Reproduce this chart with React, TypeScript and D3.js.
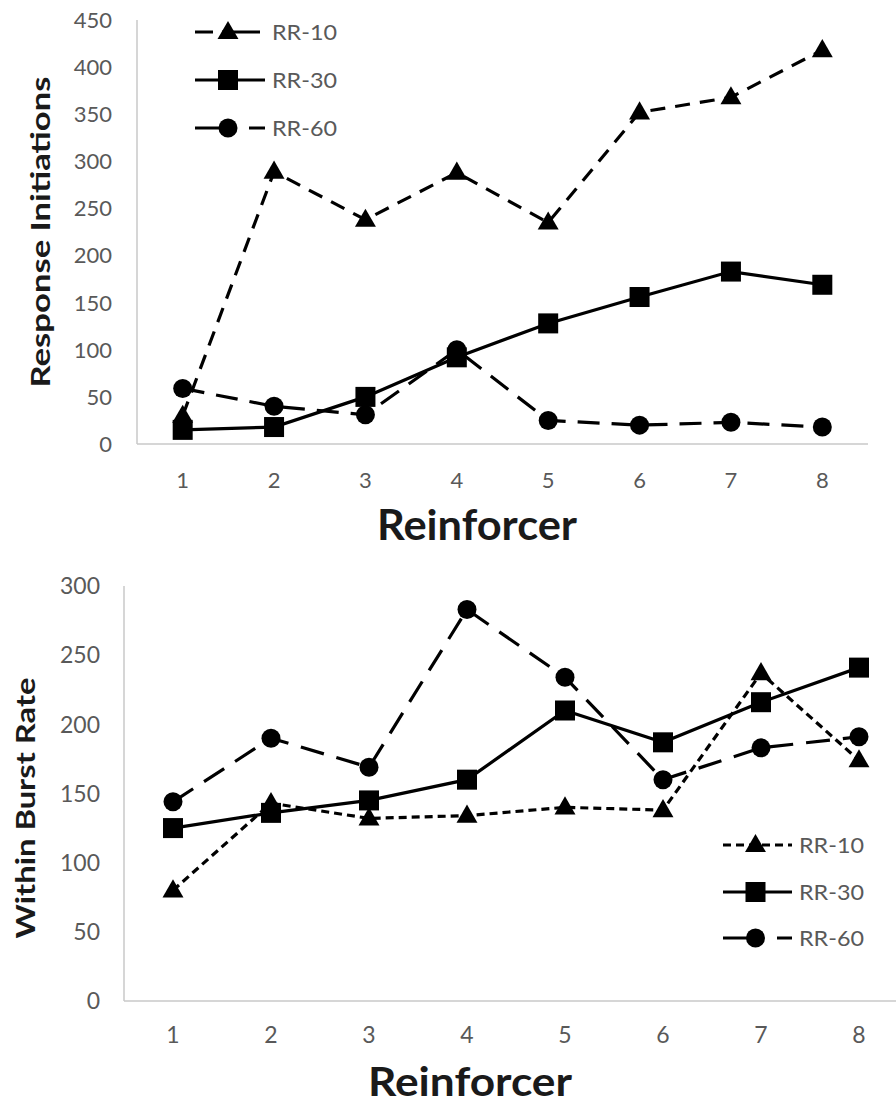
import React from "react";
import * as d3 from "d3";

const categories = [1, 2, 3, 4, 5, 6, 7, 8];
const seriesNames = ["RR-10", "RR-30", "RR-60"];

const topRR10 = [30, 289, 238, 288, 235, 352, 368, 418];
const topRR30 = [15, 18, 50, 92, 128, 156, 183, 169];
const topRR60 = [59, 40, 31, 100, 25, 20, 23, 18];
const topTicks = [0, 50, 100, 150, 200, 250, 300, 350, 400, 450];

const botRR10 = [80, 143, 132, 134, 140, 138, 237, 174];
const botRR30 = [125, 136, 145, 160, 210, 187, 216, 241];
const botRR60 = [144, 190, 169, 283, 234, 160, 183, 191];
const botTicks = [0, 50, 100, 150, 200, 250, 300];

const FONT = "Lato, 'Open Sans', sans-serif";

type Panel = {
  x0: number; x1: number; y0: number; y1: number; yMax: number;
  ticks: number[]; series: number[][]; dashes: string[];
  tickSize: number;
  yTitle: string; yTitleX: number; yTitleY: number; yTitleSize: number; yTitleLen: number;
  xTitleY: number; xTitleX: number; xTitleSize: number; xTitleLen: number;
  tickLabelY: number; tickLabelX: number;
  legendX0: number; legendX1: number; legendTextX: number; legendY: number[];
  legendDashes: string[];
};

function Marker({ kind, x, y }: { kind: number; x: number; y: number }) {
  if (kind === 0) {
    const s = d3.symbol(d3.symbolTriangle, 190)();
    return <path d={s || ""} transform={`translate(${x},${y + 1})`} fill="#000" />;
  }
  if (kind === 1) {
    return <rect x={x - 10} y={y - 10} width={20} height={20} fill="#000" />;
  }
  return <circle cx={x} cy={y} r={9.5} fill="#000" />;
}

function Chart({ p }: { p: Panel }) {
  const xs = d3.scaleBand<number>().domain(categories).range([p.x0, p.x1]);
  const y = d3.scaleLinear().domain([0, p.yMax]).range([p.y0, p.y1]);
  const cx = (c: number) => (xs(c) as number) + xs.bandwidth() / 2;
  const line = d3.line<number>().x((_, i) => cx(categories[i])).y((d) => y(d));
  return (
    <g>
      <line x1={p.x0} x2={p.x0} y1={p.y0} y2={p.y1} stroke="#c8c8c8" strokeWidth={1.5} />
      <line x1={p.x0} x2={p.x1} y1={p.y0} y2={p.y0} stroke="#c8c8c8" strokeWidth={1.5} />
      {p.ticks.map((t) => (
        <text key={t} x={p.tickLabelX} y={y(t)} dy="0.36em" textAnchor="end" fontSize={p.tickSize} fill="#595959" fontFamily={FONT}>{t}</text>
      ))}
      {categories.map((c) => (
        <text key={c} x={cx(c)} y={p.tickLabelY} textAnchor="middle" fontSize={p.tickSize} fill="#595959" fontFamily={FONT}>{c}</text>
      ))}
      <text transform={`translate(${p.yTitleX},${p.yTitleY}) rotate(-90)`} textAnchor="middle" fontSize={p.yTitleSize} fontWeight="bold" fill="#1a1a1a" fontFamily={FONT} textLength={p.yTitleLen} lengthAdjust="spacingAndGlyphs">{p.yTitle}</text>
      <text x={p.xTitleX} y={p.xTitleY} textAnchor="middle" fontSize={p.xTitleSize} fontWeight="bold" fill="#1a1a1a" fontFamily={FONT} textLength={p.xTitleLen} lengthAdjust="spacingAndGlyphs">Reinforcer</text>
      {p.series.map((s, k) => (
        <path key={k} d={line(s) || ""} fill="none" stroke="#000" strokeWidth={3.2} strokeDasharray={p.dashes[k]} />
      ))}
      {p.series.map((s, k) => s.map((v, i) => <Marker key={`${k}-${i}`} kind={k} x={cx(categories[i])} y={y(v)} />))}
      {seriesNames.map((n, k) => (
        <g key={n}>
          <line x1={p.legendX0} x2={p.legendX1} y1={p.legendY[k]} y2={p.legendY[k]} stroke="#000" strokeWidth={3.2} strokeDasharray={p.legendDashes[k]} />
          <Marker kind={k} x={(p.legendX0 + p.legendX1) / 2 - 2} y={p.legendY[k]} />
          <text x={p.legendTextX} y={p.legendY[k]} dy="0.36em" fontSize={21} fill="#595959" fontFamily={FONT} textLength={65} lengthAdjust="spacingAndGlyphs">{n}</text>
        </g>
      ))}
    </g>
  );
}

export default function App() {
  const top: Panel = {
    x0: 137, x1: 868, y0: 444, y1: 20, yMax: 450, ticks: topTicks, tickSize: 22,
    series: [topRR10, topRR30, topRR60],
    dashes: ["15 10", "none", "22 12"],
    yTitle: "Response Initiations", yTitleX: 50, yTitleY: 232, yTitleSize: 26, yTitleLen: 311,
    xTitleX: 477, xTitleY: 540, xTitleSize: 42, xTitleLen: 200,
    tickLabelY: 488, tickLabelX: 112,
    legendX0: 195, legendX1: 265, legendTextX: 272, legendY: [32, 80, 128],
    legendDashes: ["18 9 38 30", "none", "38 16 20"],
  };
  const bot: Panel = {
    x0: 124, x1: 908, y0: 1001, y1: 586, yMax: 300, ticks: botTicks, tickSize: 23,
    series: [botRR10, botRR30, botRR60],
    dashes: ["8 5", "none", "24 13"],
    yTitle: "Within Burst Rate", yTitleX: 35, yTitleY: 808, yTitleSize: 27, yTitleLen: 261,
    xTitleX: 470, xTitleY: 1096, xTitleSize: 41, xTitleLen: 204,
    tickLabelY: 1043, tickLabelX: 100,
    legendX0: 723, legendX1: 792, legendTextX: 799, legendY: [845, 892, 938],
    legendDashes: ["8 5", "none", "38 16 20"],
  };
  return (
    <svg width={896} height={1104} style={{ position: "absolute", left: 0, top: 0, background: "#fff" }}>
      <rect width={896} height={1104} fill="#fff" />
      <Chart p={top} />
      <Chart p={bot} />
    </svg>
  );
}
